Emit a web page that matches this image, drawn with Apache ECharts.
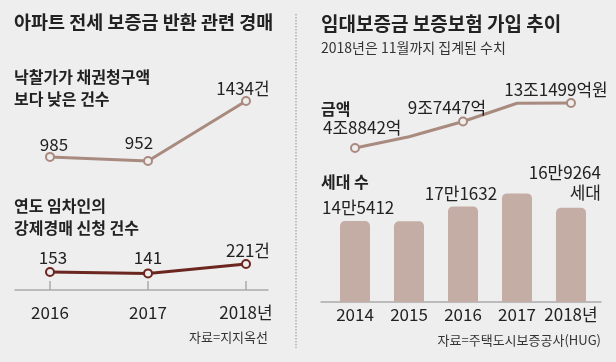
<!DOCTYPE html>
<html><head><meta charset="utf-8">
<script src="https://cdn.jsdelivr.net/npm/echarts@6/dist/echarts.min.js"></script>
<style>html,body{margin:0;padding:0;background:#eeeeee;}#c{width:616px;height:362px;}</style>
</head><body><div id="c"></div>
<script>
// ---- data ----
const leftYears = [2016, 2017, 2018];
const lowBidCounts = [985, 952, 1434];
const lowBidLabels = ['985', '952', '1434건'];
const auctionCounts = [153, 141, 221];
const auctionLabels = ['153', '141', '221건'];
const leftTickLabels = ['2016', '2017', '2018년'];

const rightYears = [2014, 2015, 2016, 2017, 2018];
const amountTrillion = [4.8842, 6.94, 9.7447, 13.1, 13.1499];
const amountLabels = ['4조8842억', '', '9조7447억', '', '13조1499억원'];
const amountMarked = [true, false, true, false, true];
const households10k = [14.5412, 14.5, 17.1632, 19.5, 16.9264];
const householdLabels = ['14만5412', '', '17만1632', '', '16만9264\n세대'];
const rightTickLabels = ['2014', '2015', '2016', '2017', '2018년'];

// ---- styles ----
const FONT = '"Noto Sans CJK KR", sans-serif';
const KFONT = '"Noto Sans CJK KR", sans-serif';
const lightLine = '#a98a7f';
const darkLine = '#6b2620';
const barColor = '#c4ada4';
const axisColor = '#aaaaaa';

const lowBidOffsets = [[4, 6], [-9, 0], [-3, 6]];
const auctionOffsets = [[3, 4], [0, 3], [2, 5]];
const amountLabelStyle = [
  {position: 'top', align: 'left', offset: [-32, -2]},
  null,
  {position: 'top', align: 'center', offset: [-16, 5]},
  null,
  {position: 'top', align: 'center', offset: [-15, 5]}
];
const householdLabelStyle = [
  {position: 'top', align: 'left', offset: [-33, 0]},
  null,
  {position: 'top', align: 'center', offset: [-2, 1]},
  null,
  {position: 'top', align: 'right', offset: [30, 0], lineHeight: 20}
];

const chart = echarts.init(document.getElementById('c'));

function leftX(gridIndex, show) {
  return {
    type: 'value', gridIndex: gridIndex, min: 2015.643, max: 2018.2245,
    axisLine: {show: show, lineStyle: {color: axisColor, width: 1.5}},
    axisTick: {show: show, inside: true, length: 9, lineStyle: {color: axisColor, width: 1.5}, customValues: leftYears},
    axisLabel: {show: show, customValues: leftYears, margin: 5,
      formatter: v => leftTickLabels[leftYears.indexOf(v)],
      fontFamily: FONT, fontSize: 17, color: '#222'},
    splitLine: {show: false}
  };
}
function rightX(gridIndex, show) {
  return {
    type: 'value', gridIndex: gridIndex, min: 2013.37, max: 2018.556,
    axisLine: {show: show, lineStyle: {color: axisColor, width: 1.5}},
    axisTick: {show: false},
    axisLabel: {show: show, customValues: rightYears, margin: 4,
      formatter: v => rightTickLabels[rightYears.indexOf(v)],
      fontFamily: FONT, fontSize: 17, color: '#222'},
    splitLine: {show: false}
  };
}
function hiddenY(gridIndex, min, max) {
  return {type: 'value', gridIndex: gridIndex, min: min, max: max, show: false, splitLine: {show: false}};
}

const option = {
  backgroundColor: '#eeeeee',
  animation: false,
  grid: [
    {left: 15, width: 253, top: 101, height: 60},
    {left: 15, width: 253, top: 264, height: 35},
    {left: 321, width: 280, top: 103, height: 45},
    {left: 321, width: 280, top: 190.6, height: 111.4}
  ],
  xAxis: [leftX(0, false), leftX(1, true), rightX(2, false), rightX(3, true)],
  yAxis: [hiddenY(0, 952, 1434), hiddenY(1, -76.6, 221), hiddenY(2, 4.8842, 13.1499), hiddenY(3, 0, 20)],
  series: [
    {
      type: 'line', xAxisIndex: 0, yAxisIndex: 0, clip: false,
      data: leftYears.map((y, i) => ({value: [y, lowBidCounts[i]],
        label: {offset: lowBidOffsets[i]}})),
      symbol: 'circle', symbolSize: 8,
      itemStyle: {color: '#eeeeee', borderColor: lightLine, borderWidth: 2},
      lineStyle: {color: lightLine, width: 3},
      label: {show: true, position: 'top', distance: 5, fontFamily: FONT, fontSize: 17, color: '#222',
        formatter: p => lowBidLabels[p.dataIndex]}
    },
    {
      type: 'line', xAxisIndex: 1, yAxisIndex: 1, clip: false,
      data: leftYears.map((y, i) => ({value: [y, auctionCounts[i]],
        label: {offset: auctionOffsets[i]}})),
      symbol: 'circle', symbolSize: 8,
      itemStyle: {color: '#eeeeee', borderColor: darkLine, borderWidth: 2},
      lineStyle: {color: darkLine, width: 3},
      label: {show: true, position: 'top', distance: 5, fontFamily: FONT, fontSize: 17, color: '#222',
        formatter: p => auctionLabels[p.dataIndex]}
    },
    {
      type: 'line', xAxisIndex: 2, yAxisIndex: 2, clip: false,
      data: rightYears.map((y, i) => {
        const d = {value: [y, amountTrillion[i]]};
        if (!amountMarked[i]) { d.symbol = 'none'; d.label = {show: false}; }
        else d.label = amountLabelStyle[i];
        return d;
      }),
      symbol: 'circle', symbolSize: 8,
      itemStyle: {color: '#eeeeee', borderColor: lightLine, borderWidth: 2},
      lineStyle: {color: lightLine, width: 3},
      label: {show: true, distance: 5, fontFamily: FONT, fontSize: 17, color: '#222',
        formatter: p => amountLabels[p.dataIndex]}
    },
    {
      type: 'bar', xAxisIndex: 3, yAxisIndex: 3, barWidth: 30,
      data: rightYears.map((y, i) => {
        const d = {value: [y, households10k[i]]};
        if (householdLabels[i]) d.label = householdLabelStyle[i];
        else d.label = {show: false};
        return d;
      }),
      itemStyle: {color: barColor, borderRadius: [5, 5, 0, 0]},
      label: {show: true, distance: 5, fontFamily: FONT, fontSize: 17, color: '#222',
        formatter: p => householdLabels[p.dataIndex]}
    }
  ],
  graphic: [
    {type: 'line', shape: {x1: 296, y1: 14, x2: 296, y2: 348}, style: {stroke: '#b0b0b0', lineWidth: 1.5, lineDash: [1.5, 1.5]}},
    {type: 'text', left: 14, top: 13, style: {text: '아파트 전세 보증금 반환 관련 경매', font: 'bold 18.5px ' + KFONT, fill: '#222'}},
    {type: 'text', left: 14, top: 66, style: {text: '낙찰가가 채권청구액\n보다 낮은 건수', font: 'bold 16px ' + KFONT, lineHeight: 22, fill: '#222'}},
    {type: 'text', left: 14, top: 195, style: {text: '연도 임차인의\n강제경매 신청 건수', font: 'bold 16px ' + KFONT, lineHeight: 22, fill: '#222'}},
    {type: 'text', right: 348, top: 331, style: {text: '자료=지지옥선', font: '13px ' + KFONT, fill: '#333'}},
    {type: 'text', left: 321, top: 14, style: {text: '임대보증금 보증보험 가입 추이', font: 'bold 19px ' + KFONT, fill: '#222'}},
    {type: 'text', left: 321, top: 41, style: {text: '2018년은 11월까지 집계된 수치', font: '14px ' + KFONT, fill: '#333'}},
    {type: 'text', left: 321, top: 101, style: {text: '금액', font: 'bold 16px ' + KFONT, fill: '#222'}},
    {type: 'text', left: 321, top: 174, style: {text: '세대 수', font: 'bold 16px ' + KFONT, fill: '#222'}},
    {type: 'text', right: 15, top: 334, style: {text: '자료=주택도시보증공사(HUG)', font: '13px ' + KFONT, fill: '#333'}}
  ]
};
chart.setOption(option);
</script></body></html>
